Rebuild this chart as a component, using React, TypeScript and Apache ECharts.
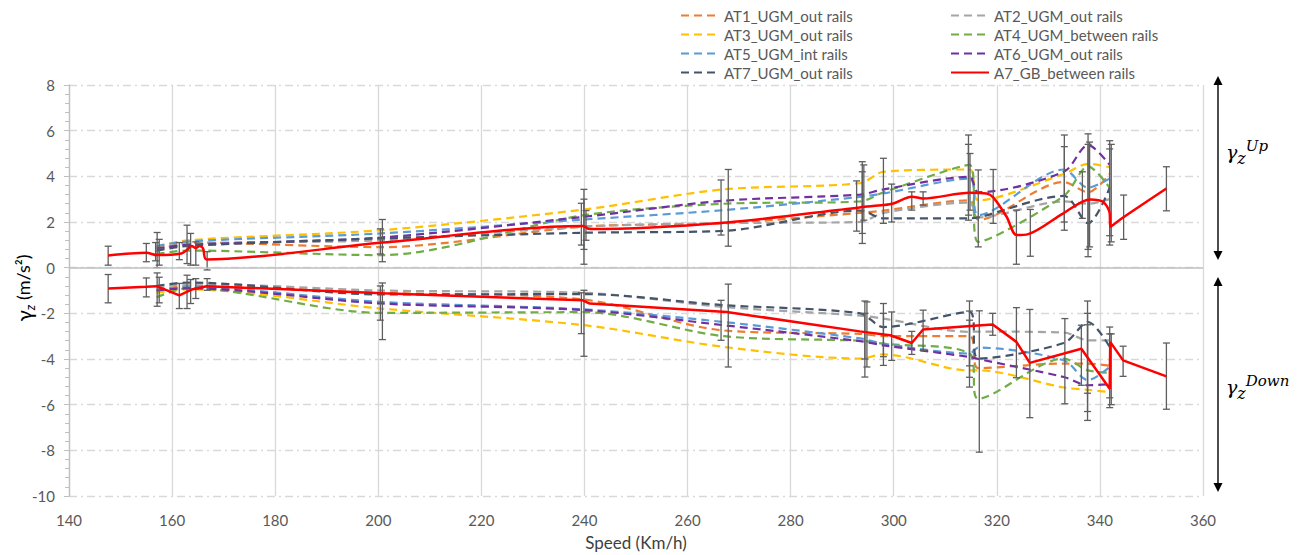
import React, { useEffect, useRef } from "react";
import * as echarts from "echarts";

// ---------- data ----------
const xTicks = [140, 160, 180, 200, 220, 240, 260, 280, 300, 320, 340, 360];
const yTicks = [-10, -8, -6, -4, -2, 0, 2, 4, 6, 8];

const ugmNames = [
  "AT1_UGM_out rails",
  "AT2_UGM_out rails",
  "AT3_UGM_out rails",
  "AT4_UGM_between rails",
  "AT5_UGM_int rails",
  "AT6_UGM_out rails",
  "AT7_UGM_out rails",
];
const redName = "A7_GB_between rails";

const ugmSpeeds = [157, 163, 200.5, 240, 267, 293.5, 298, 314.7, 316.4, 333, 337.7, 341.9];

const at1Up = [0.7, 1.1, 0.9, 1.8, 1.95, 2.4, 2.5, 2.95, 2.1, 3.75, 3.3, 4.1];
const at1Down = [-1.0, -0.8, -1.1, -1.4, -2.75, -2.9, -3.0, -3.0, -4.4, -4.2, -4.2, -4.3];
const at2Up = [0.8, 1.05, 1.2, 1.8, 1.95, 2.0, 2.4, 2.85, 2.2, 2.9, 2.8, 3.0];
const at2Down = [-0.9, -0.7, -1.0, -1.1, -1.72, -2.1, -2.23, -2.81, -2.8, -2.84, -3.18, -3.18];
const at3Up = [0.9, 1.2, 1.64, 2.55, 3.43, 3.7, 4.2, 4.3, 2.95, 4.1, 4.55, 4.4];
const at3Down = [-1.1, -0.95, -1.79, -2.52, -3.47, -3.98, -3.8, -4.5, -4.5, -5.25, -5.35, -5.45];
const at4Up = [0.6, 0.75, 0.55, 2.3, 2.8, 2.9, 3.3, 4.5, 1.13, 3.14, 4.44, 3.5];
const at4Down = [-1.3, -0.9, -1.98, -1.95, -3.0, -3.2, -3.33, -3.76, -5.74, -3.98, -4.5, -4.6];
const at5Up = [0.95, 1.15, 1.5, 2.11, 2.52, 3.1, 3.25, 3.9, 2.3, 4.3, 3.5, 3.9];
const at5Down = [-1.0, -0.85, -1.5, -1.83, -2.38, -3.1, -3.33, -3.76, -3.5, -4.06, -4.93, -4.35];
const at6Up = [0.85, 1.0, 1.32, 2.23, 2.93, 3.2, 3.43, 3.98, 3.3, 4.2, 5.37, 4.5];
const at6Down = [-1.0, -0.9, -1.57, -1.86, -2.52, -3.22, -3.4, -3.91, -4.0, -4.79, -5.15, -5.1];
const at7Up = [0.75, 0.95, 1.28, 1.53, 1.61, 2.5, 2.16, 2.16, 2.2, 3.14, 1.94, 3.5];
const at7Down = [-0.8, -0.65, -1.17, -1.16, -1.64, -2.0, -2.6, -1.94, -3.98, -3.3, -2.38, -3.47];

const ugmUp = [at1Up, at2Up, at3Up, at4Up, at5Up, at6Up, at7Up];
const ugmDown = [at1Down, at2Down, at3Down, at4Down, at5Down, at6Down, at7Down];

const redUpSpeeds = [147.6, 155, 157.1, 161.8, 163, 163.8, 164.6, 165.3, 166, 166.7, 200.8, 239.7, 241, 267.6, 293.4, 298, 299.9, 303.5, 305.7, 314.8, 318, 319.3, 321.9, 323.8, 326.1, 332.9, 338.1, 340.6, 341.9, 342.0, 344.5, 352.9];
const redUp = [0.53, 0.65, 0.55, 0.62, 0.8, 0.95, 0.85, 0.95, 0.85, 0.36, 1.1, 1.82, 1.69, 1.98, 2.64, 2.74, 2.81, 3.11, 3.03, 3.28, 3.25, 3.08, 2.23, 1.43, 1.47, 2.38, 2.99, 2.89, 2.38, 1.79, 2.2, 3.47];
const redDownSpeeds = [147.6, 155, 157, 161.4, 163.8, 166.7, 200.8, 239.7, 241, 267.6, 293.4, 299.3, 303.5, 305.7, 314.9, 319.2, 323.8, 326.4, 336.4, 341.9, 342.0, 344.5, 352.9];
const redDown = [-0.91, -0.84, -0.81, -1.21, -0.96, -0.81, -1.12, -1.43, -1.57, -1.94, -2.79, -2.96, -3.3, -2.71, -2.55, -2.49, -3.25, -4.17, -3.55, -5.3, -3.25, -4.06, -4.76];

// error bars: [speed, low, high]
const errorBars = [
  [147.6, 0.11, 0.94], [155, 0.26, 1.06], [157.1, 0, 1.54], [157.5, 0.11, 1.24], [156.8, 0.3, 1.1],
  [161.4, 0.35, 1.1], [162.9, 0.18, 1.86], [163.6, 0.11, 1.5], [164.6, 0.11, 1.13], [166.8, -0.1, 0.7],
  [147.6, -1.54, -0.3], [155, -1.28, -0.45], [157.1, -1.69, -0.23], [157.5, -1.54, -0.42], [161.4, -1.79, -0.69],
  [162.9, -1.79, -0.33], [163.6, -1.57, -0.52], [164.6, -1.35, -0.48], [166.8, -0.99, -0.48],
  [200.8, 0.26, 2.11], [200.4, 0.6, 1.7], [239.9, 0.15, 3.43], [239.4, 0.99, 2.82], [240.3, 1.2, 2.5], [239.9, 0.8, 3.0],
  [266.5, 1.43, 3.84], [267.9, 0.94, 4.3],
  [200.8, -3.15, -0.67], [200.4, -2.3, -0.8], [239.9, -3.88, -0.99], [239.4, -2.89, -1.1], [266.5, -3.18, -1.43], [267.9, -4.35, -0.72],
  [293.9, 1.06, 4.64], [294.2, 2.08, 4.5], [292.8, 1.6, 3.8], [293.9, 1.5, 4.2], [298, 1.94, 4.79], [299.6, 2.0, 3.66],
  [303.5, 2.52, 3.32], [305.7, 2.74, 3.32], [314.5, 2.08, 5.81], [314.8, 2.52, 5.0], [314.5, 2.3, 5.4], [316.4, 0.91, 4.28],
  [319.3, 1.94, 4.3], [323.8, 0.15, 2.52], [326.5, 0.5, 2.55], [333.1, 1.64, 5.81], [333.1, 2.0, 5.3], [336.6, 2.16, 4.2],
  [337.7, 0.48, 5.86], [338.0, 0.91, 5.5], [337.7, 0.8, 5.4], [341.9, 0.99, 5.56], [342.2, 1.13, 5.4], [341.9, 1.4, 5.2],
  [344.6, 1.24, 3.18], [352.9, 2.49, 4.42],
  [294.4, -4.79, -1.46], [294.8, -4.35, -1.5], [294.4, -4.0, -2.0], [298, -4.28, -1.57], [298, -3.9, -2.0], [299.6, -4.06, -1.94],
  [303.5, -3.8, -2.79], [305.7, -3.62, -1.86], [314.7, -5.23, -1.46], [314.7, -4.8, -1.9], [314.7, -4.3, -2.3],
  [316.6, -8.08, -1.89], [319.2, -2.96, -2.0], [323.8, -4.82, -1.75], [326.4, -6.57, -1.83], [333.2, -5.96, -2.23],
  [336.4, -5.15, -2.52], [337.6, -6.69, -1.46], [337.6, -6.3, -2.0], [337.6, -5.5, -2.5], [341.9, -6.13, -2.6],
  [342.2, -6.0, -2.9], [341.9, -5.7, -2.9], [344.5, -4.76, -3.44], [352.9, -6.2, -3.3],
];

const ugmColors = ["#ED7D31", "#A5A5A5", "#FFC000", "#70AD47", "#5B9BD5", "#7030A0", "#44546A"];
const redColor = "#FF0000";

const zip = (xs: number[], ys: number[]) => xs.map((x, i) => [x, ys[i]]);

export default function App() {
  const ref = useRef<HTMLDivElement>(null);
  useEffect(() => {
    const chart = echarts.init(ref.current!, undefined, { renderer: "svg" });
    const labelFont = "Lato";
    const series: any[] = [];
    ugmNames.forEach((name, i) => {
      [ugmUp[i], ugmDown[i]].forEach((vals) => {
        series.push({
          name,
          type: "line",
          data: zip(ugmSpeeds, vals),
          showSymbol: false,
          symbol: "none",
          smooth: 0.3,
          z: 2,
          lineStyle: { color: ugmColors[i], width: 2.2, type: [8, 5] },
          itemStyle: { color: ugmColors[i] },
        });
      });
    });
    series.push({
      type: "custom",
      name: "errors",
      z: 3,
      data: errorBars,
      encode: { x: 0, y: [1, 2] },
      renderItem: (_p: any, api: any) => {
        const x = api.value(0);
        const p1 = api.coord([x, api.value(1)]);
        const p2 = api.coord([x, api.value(2)]);
        const w = 3.5;
        const st = { stroke: "#5e5e5e", lineWidth: 1.3 };
        return {
          type: "group",
          children: [
            { type: "line", shape: { x1: p1[0], y1: p1[1], x2: p2[0], y2: p2[1] }, style: st },
            { type: "line", shape: { x1: p1[0] - w, y1: p1[1], x2: p1[0] + w, y2: p1[1] }, style: st },
            { type: "line", shape: { x1: p2[0] - w, y1: p2[1], x2: p2[0] + w, y2: p2[1] }, style: st },
          ],
        };
      },
      markLine: {
        silent: true,
        symbol: "none",
        label: { show: false },
        lineStyle: { color: "#bfbfbf", width: 1.6, type: "solid" },
        data: [{ yAxis: 0 }],
      },
    });
    series.push({
      name: redName,
      type: "line",
      data: zip(redUpSpeeds, redUp),
      showSymbol: false,
      symbol: "none",
      smooth: 0.3,
      z: 4,
      lineStyle: { color: redColor, width: 2.5 },
      itemStyle: { color: redColor },
    });
    series.push({
      name: redName,
      type: "line",
      data: zip(redDownSpeeds, redDown),
      showSymbol: false,
      symbol: "none",
      z: 4,
      lineStyle: { color: redColor, width: 2.5 },
      itemStyle: { color: redColor },
    });

    const legendBase = {
      orient: "vertical",
      top: 8,
      padding: 0,
      itemWidth: 38,
      itemHeight: 14,
      itemGap: 4,
      itemStyle: { opacity: 0 },
      textStyle: { fontFamily: labelFont, fontSize: 15, color: "#595959" },
    };

    const serif = "DejaVu Serif";
    const rightRich = {
      g: { fontFamily: serif, fontStyle: "italic", fontSize: 19, color: "#000", lineHeight: 28, verticalAlign: "middle" },
      s: { fontFamily: serif, fontStyle: "italic", fontSize: 16, color: "#000", lineHeight: 15, verticalAlign: "bottom" },
      u: { fontFamily: serif, fontStyle: "italic", fontSize: 15, color: "#000", lineHeight: 15, verticalAlign: "top" },
    };

    chart.setOption({
      animation: false,
      grid: { left: 69, right: 108, top: 85, bottom: 59, containLabel: false, outerBoundsMode: "none" },
      legend: [
        { ...legendBase, left: 680, data: [ugmNames[0], ugmNames[2], ugmNames[4], ugmNames[6]] },
        { ...legendBase, left: 950, data: [ugmNames[1], ugmNames[3], ugmNames[5], redName] },
      ],
      xAxis: {
        type: "value",
        min: xTicks[0],
        max: xTicks[xTicks.length - 1],
        interval: 20,
        name: "Speed (Km/h)",
        nameLocation: "middle",
        nameGap: 38,
        nameTextStyle: { fontFamily: labelFont, fontSize: 17, color: "#404040" },
        axisLine: { show: false, onZero: false },
        axisTick: { show: false },
        axisLabel: { fontFamily: labelFont, fontSize: 15, color: "#595959", margin: 16 },
        splitLine: { show: true, lineStyle: { color: "#d9d9d9", width: 1.3 } },
      },
      yAxis: {
        type: "value",
        min: yTicks[0],
        max: yTicks[yTicks.length - 1],
        interval: 2,
        axisLine: { show: true, lineStyle: { color: "#bfbfbf", width: 1.3 } },
        axisTick: { show: true, length: 5, lineStyle: { color: "#bfbfbf" } },
        minorTick: { show: true, splitNumber: 5, length: 4, lineStyle: { color: "#bfbfbf" } },
        axisLabel: { fontFamily: labelFont, fontSize: 15, color: "#595959", margin: 14 },
        splitLine: { show: true, lineStyle: { color: "#d9d9d9", width: 1.3, type: [8, 4, 2, 4] } },
      },
      graphic: [
        {
          type: "text",
          x: 23,
          y: 288,
          rotation: Math.PI / 2,
          style: {
            text: "{g|γ}{s|z}{n| (m/s²)}",
            align: "center",
            verticalAlign: "middle",
            textAlign: "center",
            textVerticalAlign: "middle",
            rich: {
              g: { fontFamily: labelFont, fontSize: 21, color: "#404040", lineHeight: 26, verticalAlign: "middle" },
              s: { fontFamily: labelFont, fontStyle: "italic", fontSize: 13, color: "#404040", lineHeight: 13, verticalAlign: "bottom" },
              n: { fontFamily: labelFont, fontSize: 18, color: "#404040", lineHeight: 26, verticalAlign: "middle" },
            },
          },
        },
        { type: "line", shape: { x1: 1218, y1: 83, x2: 1218, y2: 253 }, style: { stroke: "#000", lineWidth: 1.4 } },
        { type: "polygon", shape: { points: [[1218, 76], [1213.5, 85], [1222.5, 85]] }, style: { fill: "#000" } },
        { type: "polygon", shape: { points: [[1218, 260], [1213.5, 251], [1222.5, 251]] }, style: { fill: "#000" } },
        { type: "line", shape: { x1: 1218, y1: 284, x2: 1218, y2: 485 }, style: { stroke: "#000", lineWidth: 1.4 } },
        { type: "polygon", shape: { points: [[1218, 277], [1213.5, 286], [1222.5, 286]] }, style: { fill: "#000" } },
        { type: "polygon", shape: { points: [[1218, 492], [1213.5, 483], [1222.5, 483]] }, style: { fill: "#000" } },
        {
          type: "text",
          x: 1226,
          y: 152,
          style: { text: "{g|γ}{s|z}{u|Up}", align: "left", verticalAlign: "middle", rich: rightRich },
        },
        {
          type: "text",
          x: 1226,
          y: 387,
          style: { text: "{g|γ}{s|z}{u|Down}", align: "left", verticalAlign: "middle", rich: rightRich },
        },
      ],
      series,
    });
    return () => chart.dispose();
  }, []);
  return <div ref={ref} style={{ position: "absolute", left: 0, top: 0, width: 1311, height: 555 }} />;
}
